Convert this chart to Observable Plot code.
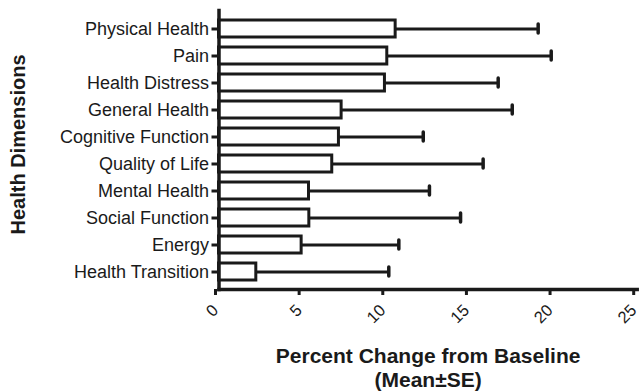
<!DOCTYPE html>
<html><head><meta charset="utf-8">
<script src="https://cdn.jsdelivr.net/npm/d3@7"></script>
<script src="https://cdn.jsdelivr.net/npm/@observablehq/plot@0.6"></script>
<style>body{margin:0;background:#fff} svg{font-family:"Liberation Sans",Arial,sans-serif}</style>
</head><body><div id="chart"></div>
<script>
const categories = ["Physical Health","Pain","Health Distress","General Health","Cognitive Function","Quality of Life","Mental Health","Social Function","Energy","Health Transition"];
const means = [10.56, 10.06, 9.92, 7.33, 7.17, 6.77, 5.38, 5.40, 4.94, 2.23];
const errors = [8.52, 9.80, 6.77, 10.20, 5.04, 9.02, 7.20, 9.04, 5.81, 7.92];
const xTicks = [0, 5, 10, 15, 20, 25];
const xTitle = "Percent Change from Baseline\n(Mean\u00b1SE)";
const yTitle = "Health Dimensions";

const data = categories.map((c, i) => ({dimension: c, mean: means[i], upper: means[i] + errors[i]}));
const ink = "#1a1a1a";
const chart = Plot.plot({
  width: 639, height: 391,
  marginLeft: 218.5, marginRight: 2.3, marginTop: 10, marginBottom: 102,
  style: {fontFamily: '"Liberation Sans", Arial, sans-serif', color: ink, background: "white"},
  x: {domain: [0, 25]},
  y: {domain: categories, padding: 0},
  marks: [
    Plot.ruleY(data, {x1: "mean", x2: "upper", y: "dimension", stroke: ink, strokeWidth: 3}),
    Plot.tickX(data, {x: "upper", y: "dimension", stroke: ink, strokeWidth: 3.5, insetTop: 9, insetBottom: 9, strokeLinecap: "round"}),
    Plot.barX(data, {x: "mean", y: "dimension", fill: "white", stroke: ink, strokeWidth: 3, insetTop: 5, insetBottom: 5}),
    Plot.frame({anchor: "left", stroke: ink, strokeWidth: 3.5}),
    Plot.frame({anchor: "bottom", stroke: ink, strokeWidth: 3.5}),
    Plot.axisY({tickSize: 7, tickPadding: 3, fontSize: 18, strokeWidth: 3, label: null}),
    Plot.axisX({ticks: xTicks, tickSize: 6, tickPadding: 12, tickRotate: -45, dx: -3.5, fontSize: 16.5, strokeWidth: 3, label: null}),
    Plot.text([xTitle], {text: d => d, frameAnchor: "bottom", dy: 77.5, lineAnchor: "middle", lineHeight: 1.15, fontSize: 21, fontWeight: "bold", fill: ink}),
    Plot.text([yTitle], {text: d => d, frameAnchor: "left", textAnchor: "middle", dx: -200.5, dy: -5.5, rotate: -90, fontSize: 20, fontWeight: "bold", fill: ink})
  ]
});
document.getElementById("chart").append(chart);
</script>
</body></html>
